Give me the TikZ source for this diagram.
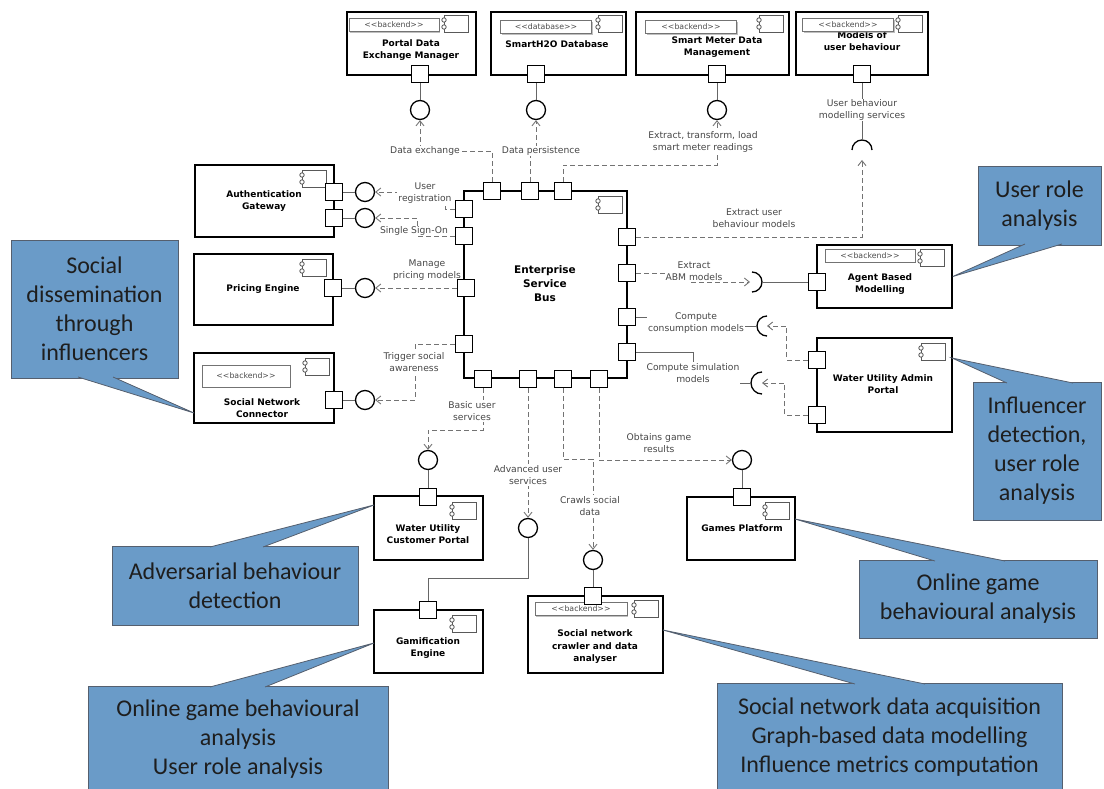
\documentclass[tikz,border=0pt]{standalone}
\usepackage{fontspec}
\usepackage{tikz}
\usetikzlibrary{arrows.meta,shadows}

\newfontfamily\diafont{DejaVu Sans}
\newfontfamily\notefam{Carlito}
\newcommand{\lblfont}{\diafont\fontsize{9.2}{12}\selectfont}
\newcommand{\cnamefont}{\diafont\bfseries\fontsize{9}{12.5}\selectfont}
\newcommand{\esbfont}{\diafont\bfseries\fontsize{10.5}{14}\selectfont}
\newcommand{\stfont}{\diafont\fontsize{7.8}{9}\selectfont}
\newcommand{\callfont}{\notefam\fontsize{24}{29}\selectfont}
\newcommand{\stt}[1]{<\kern0pt<#1>\kern0pt>}

\definecolor{notefill}{RGB}{106,155,200}
\definecolor{notetext}{RGB}{30,30,30}
\definecolor{noteedge}{RGB}{85,95,110}

% component icon, top left corner given
\newcommand{\cicon}[2]{%
  \draw [icon] (#1,#2) rectangle ++(24,17);
  \draw [icon,fill=white] (#1,#2) ++(0,5) circle [radius=2.2pt] ++(0,7) circle [radius=2.2pt];}

\begin{document}
\begin{tikzpicture}[x=1pt,y=-1pt,
    comp/.style={draw,line width=1.7pt,fill=white,inner sep=0pt},
    port/.style={draw,fill=white,line width=1.3pt,minimum size=17pt,inner sep=0pt},
    ball/.style={circle,draw,fill=white,line width=1.3pt,minimum size=19pt,inner sep=0pt},
    sock/.style={line width=1.3pt},
    icon/.style={draw=black!65,line width=0.8pt},
    stype/.style={draw=black!55,fill=white,line width=0.7pt,font=\stfont,text=black!70,
        minimum height=13pt,inner sep=1pt,drop shadow={shadow xshift=1.3pt,shadow yshift=-1.3pt}},
    cname/.style={font=\cnamefont,align=center},
    wire/.style={draw=black!60,line width=0.9pt},
    dep/.style={draw=black!55,line width=0.9pt,dash pattern=on 5pt off 3pt,
        -{Straight Barb[length=5pt,width=8pt]}},
    lbl/.style={font=\lblfont,text=black!72,align=center,inner sep=1pt},
    lblw/.style={lbl,fill=white},
    note/.style={draw=noteedge,fill=notefill,line width=0.8pt,font=\callfont,
        text=notetext,align=center,inner sep=0pt},
    noteline/.style={draw=noteedge,line width=0.8pt}]

    \clip (0,0) rectangle (1104,789);

    % Top row
    \node [comp,minimum width=129pt,minimum height=63pt] (pdem) at (411.5,43.5) {};
    \node [comp,minimum width=135pt,minimum height=63pt] (sdb) at (558.5,43.5) {};
    \node [comp,minimum width=153pt,minimum height=63pt] (smdm) at (712.5,43.5) {};
    \node [comp,minimum width=132pt,minimum height=63pt] (mub) at (862,43.5) {};

    % Left column
    \node [comp,minimum width=139pt,minimum height=72pt] (auth) at (264.5,201) {};
    \node [comp,minimum width=139pt,minimum height=71pt] (price) at (263.5,289.5) {};
    \node [comp,minimum width=140pt,minimum height=70pt] (snc) at (264,388) {};

    % Bus
    \node [comp,minimum width=163pt,minimum height=187pt] (esb) at (545.5,284.5) {};

    % Right column
    \node [comp,minimum width=135pt,minimum height=63pt] (abm) at (884.5,276.5) {};
    \node [comp,minimum width=135pt,minimum height=94pt] (wuap) at (884.5,385) {};

    % Bottom row
    \node [comp,minimum width=109pt,minimum height=64pt] (wucp) at (428.5,528) {};
    \node [comp,minimum width=109pt,minimum height=63pt] (gam) at (428.5,641.5) {};
    \node [comp,minimum width=135pt,minimum height=77pt] (sncd) at (595.5,634.5) {};
    \node [comp,minimum width=108pt,minimum height=63pt] (games) at (741,528.5) {};

    % Icons
    \cicon{444}{15} \cicon{598}{15} \cicon{759}{15} \cicon{898}{15}
    \cicon{302}{170} \cicon{302}{259} \cicon{305}{358} \cicon{598}{196}
    \cicon{920}{249} \cicon{921}{343} \cicon{452}{502} \cicon{452}{615}
    \cicon{634}{600} \cicon{765}{502}

    % Names
    \node [cname] (pdemtxt) at (411,50) {Portal Data\\Exchange Manager};
    \node [cname] (sdbtxt) at (557,44) {SmartH2O Database};
    \node [cname] (smdmtxt) at (717,47) {Smart Meter Data\\Management};
    \node [cname] (mubtxt) at (862,41) {Models of\\user behaviour};
    \node [cname] (authtxt) at (264,201) {Authentication\\Gateway};
    \node [cname] (pricetxt) at (263,289) {Pricing Engine};
    \node [cname] (snctxt) at (262,408) {Social Network\\Connector};
    \node [font=\esbfont,align=center] (esbtxt) at (545,284) {Enterprise\\Service\\Bus};
    \node [cname] (abmtxt) at (880,284) {Agent Based\\Modelling};
    \node [cname] (wuaptxt) at (883,384) {Water Utility Admin\\Portal};
    \node [cname] (wucptxt) at (428,534) {Water Utility\\Customer Portal};
    \node [cname] (gamtxt) at (428,648) {Gamification\\Engine};
    \node [cname] (sncdtxt) at (595,647) {Social network\\crawler and data\\analyser};
    \node [cname] (gamestxt) at (742,528) {Games Platform};

    % Stereotypes
    \node [stype,minimum width=90pt] (pdemst) at (394,25) {\stt{backend}};
    \node [stype,minimum width=91pt] (sdbst) at (546,27) {\stt{database}};
    \node [stype,minimum width=91pt] (smdmst) at (691,27) {\stt{backend}};
    \node [stype,minimum width=91pt] (mubst) at (848,25) {\stt{backend}};
    \node [stype,minimum width=90pt] (abmst) at (870,255.5) {\stt{backend}};
    \node [stype,minimum width=88pt,minimum height=22pt] (sncst) at (246,376) {\stt{backend}};
    \node [stype,minimum width=92pt] (sncdst) at (581,609) {\stt{backend}};

    % Ports
    \node [port] (pdemP) at (420,74) {};
    \node [port] (sdbP) at (536,74) {};
    \node [port] (smdmP) at (717,74) {};
    \node [port] (mubP) at (862,74) {};
    \node [port] (authP1) at (334,192) {};
    \node [port] (authP2) at (334,218) {};
    \node [port] (priceP) at (333,288) {};
    \node [port] (sncP) at (334,400) {};
    \node [port] (esbT1) at (492,191) {};
    \node [port] (esbT2) at (530,191) {};
    \node [port] (esbT3) at (563,191) {};
    \node [port] (esbL1) at (464,209) {};
    \node [port] (esbL2) at (464,236) {};
    \node [port] (esbL3) at (466,288) {};
    \node [port] (esbL4) at (464,344) {};
    \node [port] (esbR1) at (627,237) {};
    \node [port] (esbR2) at (627,273) {};
    \node [port] (esbR3) at (627,317) {};
    \node [port] (esbR4) at (627,352) {};
    \node [port] (esbB1) at (483,379) {};
    \node [port] (esbB2) at (528,379) {};
    \node [port] (esbB3) at (563,379) {};
    \node [port] (esbB4) at (599,379) {};
    \node [port] (abmP) at (817,282) {};
    \node [port] (wuapP1) at (817,360) {};
    \node [port] (wuapP2) at (817,415) {};
    \node [port] (wucpP) at (428,497) {};
    \node [port] (gamP) at (428,610) {};
    \node [port] (sncdP) at (593,596) {};
    \node [port] (gamesP) at (742,497) {};

    % Provided interfaces
    \node [ball] (pdemB) at (420,110) {};
    \node [ball] (sdbB) at (536,110) {};
    \node [ball] (smdmB) at (717,110) {};
    \node [ball] (authB1) at (365,192) {};
    \node [ball] (authB2) at (365,218) {};
    \node [ball] (priceB) at (365,288) {};
    \node [ball] (sncB) at (365,400) {};
    \node [ball] (wucpB) at (428,460) {};
    \node [ball] (gamB) at (528,528) {};
    \node [ball] (sncdB) at (593,560) {};
    \node [ball] (gamesB) at (742,460) {};

    \draw [wire] (pdemP.south) -- (pdemB.north);
    \draw [wire] (sdbP.south) -- (sdbB.north);
    \draw [wire] (smdmP.south) -- (smdmB.north);
    \draw [wire] (authP1.east) -- (authB1.west);
    \draw [wire] (authP2.east) -- (authB2.west);
    \draw [wire] (priceP.east) -- (priceB.west);
    \draw [wire] (sncP.east) -- (sncB.west);
    \draw [wire] (wucpP.north) -- (wucpB.south);
    \draw [wire] (sncdP.north) -- (sncdB.south);
    \draw [wire] (gamesP.north) -- (gamesB.south);
    \draw [wire] (gamP.north) -- ++(0,-22) -| (gamB.south);

    % Required interfaces
    \coordinate (mubS) at (862,150);
    \coordinate (abmS) at (752,282);
    \coordinate (consS) at (767,326);
    \coordinate (simS) at (762,383);
    \draw [sock] ([xshift=-10pt]mubS) arc [start angle=180,end angle=0,radius=10pt];
    \draw [sock] ([yshift=10pt]abmS) arc [start angle=90,end angle=-90,radius=10pt];
    \draw [sock] ([yshift=10pt]consS) arc [start angle=90,end angle=270,radius=10pt];
    \draw [sock] ([yshift=11pt]simS) arc [start angle=90,end angle=270,radius=11pt];

    \draw [wire] (mubP.south) -- ([yshift=10pt]mubS);
    \draw [wire] (abmP.west) -- ([xshift=10pt]abmS);
    \draw [wire] (esbR3.east) -- (700,317) |- ([xshift=-10pt]consS);
    \draw [wire] (esbR4.east) -| (693,383) -- ([xshift=-11pt]simS);

    % Bus usages
    \draw [dep] (esbT1.north) |- (420,151) -- (pdemB.south);
    \draw [dep] (esbT2.north) |- (536,151) -- (sdbB.south);
    \draw [dep] (esbT3.north) |- (717,165) -- (smdmB.south);
    \draw [dep] (esbR1.east) -| ([yshift=-10pt]mubS);
    \draw [dep] (esbR2.east) -- (690,273) |- ([xshift=-2pt]abmS);
    \draw [dep] (wuapP1.west) -- ++(-21,0) |- (consS);
    \draw [dep] (wuapP2.west) -- ++(-23,0) |- (simS);
    \draw [dep] (esbL1.west) -| (445,192) -- (authB1.east);
    \draw [dep] (esbL2.west) -| (417,218) -- (authB2.east);
    \draw [dep] (esbL3.west) -- (priceB.east);
    \draw [dep] (esbL4.west) -| (415,400) -- (sncB.east);
    \draw [dep] (esbB1.south) -- (483,430) -| (wucpB.north);
    \draw [dep] (esbB2.south) -- (gamB.north);
    \draw [dep] (esbB3.south) -- (563,459) -| (sncdB.north);
    \draw [dep] (esbB4.south) |- (gamesB.west);

    % Labels
    \node [lblw] (dexl) at (425,151) {Data exchange};
    \node [lblw] (dpl) at (541,151) {Data persistence};
    \node [lblw] (etll) at (703,142) {Extract, transform, load\\smart meter readings};
    \node [lblw] (ubml) at (862,110) {User behaviour\\modelling services};
    \node [lbl] (eubl) at (754,218) {Extract user\\behaviour models};
    \node [lblw] (abml) at (694,271) {Extract\\ABM models};
    \node [lblw] (consl) at (696,323) {Compute\\consumption models};
    \node [lblw] (siml) at (693,373) {Compute simulation\\models};
    \node [lblw] (regl) at (425,193) {User\\registration};
    \node [lblw] (ssol) at (414,231) {Single Sign-On};
    \node [lbl] (pricel) at (427,270) {Manage\\pricing models};
    \node [lblw] (trigl) at (414,362) {Trigger social\\awareness};
    \node [lblw] (basicl) at (472,411) {Basic user\\services};
    \node [lblw] (advl) at (528,475) {Advanced user\\services};
    \node [lblw] (crawll) at (590,506) {Crawls social\\data};
    \node [lbl] (obtl) at (659,443) {Obtains game\\results};

    % Callouts
    \node [note,minimum width=123pt,minimum height=79pt] (n1) at (1039.5,205.5) {User role\\analysis};
    \coordinate (n1a) at (1025,244);
    \coordinate (n1b) at (1062,244);
    \fill [notefill] (abm.east) -- (n1a) -- (n1b) -- cycle;
    \draw [noteline] (n1a) -- (abm.east) -- (n1b);

    \node [note,minimum width=167pt,minimum height=138pt] (n2) at (94.5,309) {Social\\dissemination\\through\\influencers};
    \coordinate (n2t) at (194,413);
    \coordinate (n2a) at (78,377);
    \coordinate (n2b) at (113,377);
    \fill [notefill] (n2t) -- (n2a) -- (n2b) -- cycle;
    \draw [noteline] (n2a) -- (n2t) -- (n2b);

    \node [note,minimum width=128pt,minimum height=138pt] (n3) at (1037,451) {Influencer\\detection,\\user role\\analysis};
    \coordinate (n3t) at (952,358);
    \coordinate (n3a) at (1007,383);
    \coordinate (n3b) at (1073,383);
    \fill [notefill] (n3t) -- (n3a) -- (n3b) -- cycle;
    \draw [noteline] (n3a) -- (n3t) -- (n3b);

    \node [note,minimum width=238pt,minimum height=78pt] (n4) at (978,599) {Online game\\behavioural analysis};
    \coordinate (n4t) at (795,519);
    \coordinate (n4a) at (935,561);
    \coordinate (n4b) at (1005,561);
    \fill [notefill] (n4t) -- (n4a) -- (n4b) -- cycle;
    \draw [noteline] (n4a) -- (n4t) -- (n4b);

    \node [note,minimum width=246pt,minimum height=79pt] (n5) at (235,585.5) {Adversarial behaviour\\detection};
    \coordinate (n5t) at (374,505);
    \coordinate (n5a) at (210,547);
    \coordinate (n5b) at (263,547);
    \fill [notefill] (n5t) -- (n5a) -- (n5b) -- cycle;
    \draw [noteline] (n5a) -- (n5t) -- (n5b);

    \node [note,minimum width=300pt,minimum height=106pt] (n6) at (238,739) {Online game behavioural\\analysis\\User role analysis};
    \coordinate (n6t) at (374,643);
    \coordinate (n6a) at (210,687);
    \coordinate (n6b) at (265,687);
    \fill [notefill] (n6t) -- (n6a) -- (n6b) -- cycle;
    \draw [noteline] (n6a) -- (n6t) -- (n6b);

    \node [note,minimum width=345pt,minimum height=109pt] (n7) at (889.5,737.5) {Social network data acquisition\\Graph-based data modelling\\Influence metrics computation};
    \coordinate (n7t) at (663,630);
    \coordinate (n7a) at (855,684);
    \coordinate (n7b) at (925,684);
    \fill [notefill] (n7t) -- (n7a) -- (n7b) -- cycle;
    \draw [noteline] (n7a) -- (n7t) -- (n7b);
\end{tikzpicture}
\end{document}
